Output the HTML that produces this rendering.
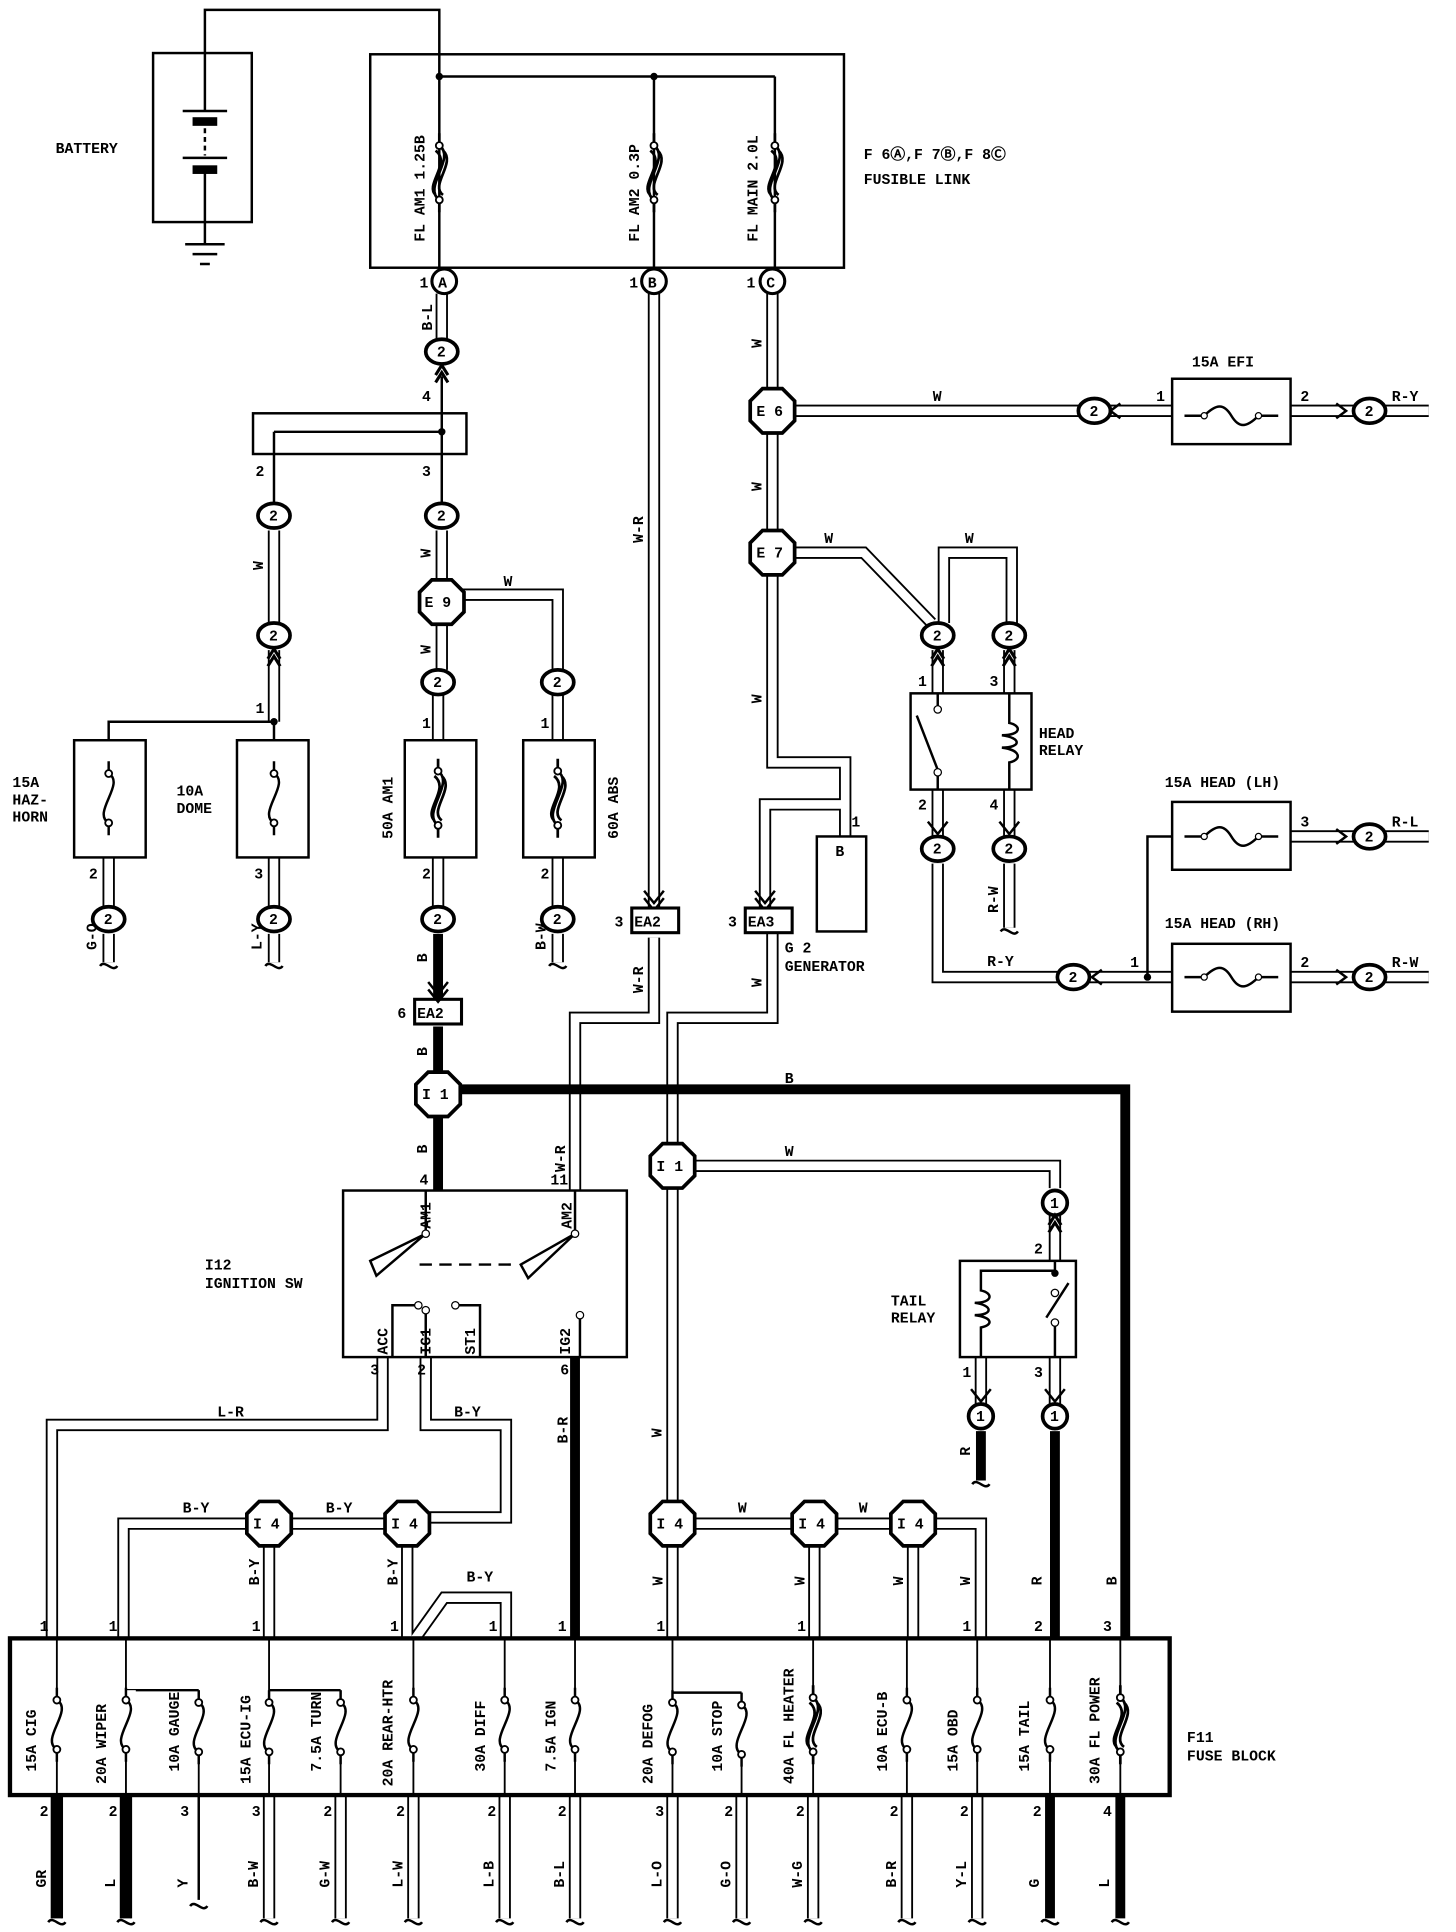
<!DOCTYPE html>
<html><head><meta charset="utf-8"><style>
html,body{margin:0;padding:0;background:#fff}
svg{display:block}
text{font-family:"Liberation Mono",monospace;font-weight:bold;font-size:12px;fill:#000}
.b{fill:none;stroke:#000;stroke-width:2}
.t{fill:none;stroke:#000;stroke-width:1.5}
</style></head><body>
<svg width="1456" height="1932" viewBox="0 0 1180 1566" xmlns="http://www.w3.org/2000/svg">
<defs>
<polygon id="oct" points="-8,-18 8,-18 18,-8 18,8 8,18 -8,18 -18,8 -18,-8" fill="#fff" stroke="#000" stroke-width="3"/>
<ellipse id="cn" rx="13" ry="10" fill="#fff" stroke="#000" stroke-width="3"/>
<g id="fz"><path d="M0,-30 V-20 C14,-12 -14,12 0,20 V30" fill="none" stroke="#000" stroke-width="2"/><circle cy="-20" r="2.8" fill="#fff" stroke="#000" stroke-width="1.5"/><circle cy="20" r="2.8" fill="#fff" stroke="#000" stroke-width="1.5"/></g>
<g id="fzt"><path d="M0,-32 V-22 C14,-12 -14,12 0,22 V32 M3,-18 C14,-8 -8,10 3,18 M-3,-18 C10,-8 -12,10 -3,18" fill="none" stroke="#000" stroke-width="2.2"/><circle cy="-22" r="2.8" fill="#fff" stroke="#000" stroke-width="1.5"/><circle cy="22" r="2.8" fill="#fff" stroke="#000" stroke-width="1.5"/></g>
<g id="fh"><path d="M-38,0 H-22 C-12,-10 -6,-10 0,0 C6,10 12,10 22,0 H38" fill="none" stroke="#000" stroke-width="2"/><circle cx="-22" r="2.5" fill="#fff" stroke="#000"/><circle cx="22" r="2.5" fill="#fff" stroke="#000"/></g>
<path id="up" d="M-5,8 L0,0 L5,8 M-5,14 L0,6 L5,14" fill="none" stroke="#000" stroke-width="2.5"/>
<path id="wv" d="M-7,0 C-3,-6 3,6 7,0" fill="none" stroke="#000" stroke-width="2"/>
<g id="dw">
<path d="M358,238 V275"/>
<path d="M222,430 V505 M358,430 V470 M358,506 V543 M374,482 H452 V543"/>
<path d="M355,563 V600 M452,563 V600 M355,695 V735 M452,695 V735 M222,695 V735 M88,695 V735 M222,527 V585"/>
<path d="M88,757 V780 M222,757 V780 M452,757 V780 M818,700 V752"/>
<path d="M530,238 V735 M530,760 V825 H466 V965"/>
<path d="M626,238 V315 M644,333 H875 M626,351 V430 M644,448 H700 L755,505 M765,505 V448 H820 V505"/>
<path d="M626,466 V618 H685 V678 M620,735 V652 H685"/>
<path d="M626,757 V825 H545 V927 M563,945 H855 V963 M545,963 V1217"/>
<path d="M760,527 V562 M818,527 V562 M760,640 V678 M818,640 V678 M760,700 V792 H857"/>
<path d="M1046,333 H1097 M1123,333 H1158 M1046,678 H1097 M1123,678 H1158 M1046,792 H1097 M1123,792 H1158 M950,333 H900 M882,792 H950"/>
<path d="M855,1100 V1138 M855,985 V1022 M795,1100 V1138"/>
<path d="M310,1100 V1155 H42 V1330 M345,1100 V1155 H410 V1230 H348 M312,1235 H236 M200,1235 H100 V1330 M218,1253 V1330 M330,1253 V1330 M335,1330 L360,1295 H410 V1330"/>
<path d="M563,1235 H642 M678,1235 H722 M758,1235 H795 V1330 M545,1253 V1330 M660,1253 V1330 M740,1253 V1330"/>
<path d="M46,1455 V1555 M102,1455 V1555 M218,1455 V1555 M276,1455 V1555 M335,1455 V1555 M409,1455 V1555 M466,1455 V1555 M545,1455 V1555 M601,1455 V1555 M659,1455 V1555 M735,1455 V1555 M792,1455 V1555"/>
</g>
</defs>

<use href="#dw" fill="none" stroke="#000" stroke-width="10"/>
<use href="#dw" fill="none" stroke="#fff" stroke-width="7"/>

<g fill="none" stroke="#000" stroke-width="8">
<path d="M355,757 V810 M355,832 V869 M373,883 H912 V1330 M355,905 V965 M466,1100 V1330 M855,1160 V1330 M795,1160 V1200"/>
<path d="M46,1455 V1555 M102,1455 V1555 M851,1455 V1555 M908,1455 V1555"/>
</g>
<path d="M161,1455 V1540" class="b"/>

<path d="M166,43 V8 H356 V62" class="b"/>
<rect x="124" y="43" width="80" height="137" class="b" stroke-width="3"/>
<path d="M166,43 V90 M148,90 H184 M148,128 H184 M166,140 V180 M166,180 V198 M150,198 H182 M156,206 H176 M162,214 H170" class="b"/>
<rect x="156" y="95" width="20" height="7" fill="#000"/><rect x="156" y="134" width="20" height="7" fill="#000"/>
<path d="M166,104 V126" stroke="#000" stroke-width="2" stroke-dasharray="4,3"/>
<text x="45" y="124">BATTERY</text>

<rect x="300" y="44" width="384" height="173" class="b" stroke-width="3"/>
<path d="M356,62 H628 M356,62 V217 M530,62 V217 M628,62 V217" class="b"/>
<circle cx="356" cy="62" r="3"/><circle cx="530" cy="62" r="3"/>
<use href="#fzt" x="356" y="140"/><use href="#fzt" x="530" y="140"/><use href="#fzt" x="628" y="140"/>
<text transform="translate(344,196) rotate(-90)">FL AM1 1.25B</text>
<text transform="translate(518,196) rotate(-90)">FL AM2 0.3P</text>
<text transform="translate(614,196) rotate(-90)">FL MAIN 2.0L</text>
<g><circle cx="360" cy="228" r="10" fill="#fff" stroke="#000" stroke-width="2.5"/><text x="355" y="233">A</text><text x="340" y="233">1</text>
<circle cx="530" cy="228" r="10" fill="#fff" stroke="#000" stroke-width="2.5"/><text x="525" y="233">B</text><text x="510" y="233">1</text>
<circle cx="626" cy="228" r="10" fill="#fff" stroke="#000" stroke-width="2.5"/><text x="621" y="233">C</text><text x="605" y="233">1</text></g>
<text x="700" y="129">F 6Ⓐ,F 7Ⓑ,F 8Ⓒ</text>
<text x="700" y="149">FUSIBLE LINK</text>

<text transform="translate(350,268) rotate(-90)">B-L</text>
<use href="#cn" x="358" y="285"/><text x="354" y="289">2</text><use href="#up" x="358" y="296"/>
<path d="M358,305 V335" class="b"/><text x="342" y="325">4</text>
<rect x="205" y="335" width="173" height="33" class="b" stroke-width="3"/>
<path d="M358,335 V408 M222,350 H358 M222,350 V408" class="b"/><circle cx="358" cy="350" r="3"/>
<text x="207" y="386">2</text><text x="342" y="386">3</text>
<use href="#cn" x="222" y="418"/><text x="218" y="422">2</text>
<use href="#cn" x="358" y="418"/><text x="354" y="422">2</text>
<text transform="translate(213,462) rotate(-90)">W</text><text transform="translate(349,452) rotate(-90)">W</text>
<use href="#cn" x="222" y="515"/><text x="218" y="519">2</text><use href="#up" x="222" y="526"/>
<use href="#oct" x="358" y="488"/><text x="344" y="492">E 9</text><text x="408" y="475">W</text>
<text transform="translate(349,530) rotate(-90)">W</text>
<use href="#cn" x="355" y="553"/><text x="351" y="557">2</text>
<use href="#cn" x="452" y="553"/><text x="448" y="557">2</text>
<path d="M222,585 H88 V600 M222,585 V600" class="b"/><circle cx="222" cy="585" r="3"/><text x="207" y="578">1</text>
<rect x="60" y="600" width="58" height="95" class="b" stroke-width="3"/>
<rect x="192" y="600" width="58" height="95" class="b" stroke-width="3"/>
<rect x="328" y="600" width="58" height="95" class="b" stroke-width="3"/>
<rect x="424" y="600" width="58" height="95" class="b" stroke-width="3"/>
<use href="#fz" x="88" y="647"/><use href="#fz" x="222" y="647"/><use href="#fzt" x="355" y="647"/><use href="#fzt" x="452" y="647"/>
<text x="10" y="638">15A</text><text x="10" y="652">HAZ-</text><text x="10" y="666">HORN</text>
<text x="143" y="645">10A</text><text x="143" y="659">DOME</text>
<text transform="translate(318,680) rotate(-90)">50A AM1</text>
<text transform="translate(501,680) rotate(-90)">60A ABS</text>
<text x="342" y="590">1</text><text x="438" y="590">1</text><text x="342" y="712">2</text><text x="438" y="712">2</text><text x="72" y="712">2</text><text x="206" y="712">3</text>
<use href="#cn" x="88" y="745"/><text x="84" y="749">2</text>
<use href="#cn" x="222" y="745"/><text x="218" y="749">2</text>
<use href="#cn" x="355" y="745"/><text x="351" y="749">2</text>
<use href="#cn" x="452" y="745"/><text x="448" y="749">2</text>
<text transform="translate(78,770) rotate(-90)">G-O</text><text transform="translate(212,770) rotate(-90)">L-Y</text><text transform="translate(442,770) rotate(-90)">B-W</text>
<use href="#wv" x="88" y="783"/><use href="#wv" x="222" y="783"/><use href="#wv" x="452" y="783"/>
<text transform="translate(346,780) rotate(-90)">B</text>
<rect x="336" y="810" width="38" height="20" fill="#fff" stroke="#000" stroke-width="2.5"/><text x="338" y="825">EA2</text><text x="322" y="825">6</text>
<path d="M347,796 L355,806 L363,796 M347,802 L355,812 L363,802" class="b"/>
<text transform="translate(346,856) rotate(-90)">B</text>
<use href="#oct" x="355" y="887"/><text x="342" y="891">I 1</text>
<text transform="translate(346,935) rotate(-90)">B</text><text x="340" y="960">4</text>
<text x="636" y="878">B</text>

<text transform="translate(521,440) rotate(-90)">W-R</text>
<path d="M522,722 L530,732 L538,722 M522,728 L530,738 L538,728" class="b"/>
<rect x="512" y="736" width="38" height="20" fill="#fff" stroke="#000" stroke-width="2.5"/><text x="514" y="751">EA2</text><text x="498" y="751">3</text>
<text transform="translate(521,805) rotate(-90)">W-R</text>
<text transform="translate(458,950) rotate(-90)">W-R</text><text x="446" y="960">11</text>

<text transform="translate(617,282) rotate(-90)">W</text>
<use href="#oct" x="626" y="333"/><text x="613" y="337">E 6</text>
<text x="756" y="325">W</text>
<use href="#cn" x="887" y="333"/><text x="883" y="337">2</text><path d="M908,327 L900,333 L908,339" class="b"/>
<text x="937" y="325">1</text><text x="1054" y="325">2</text>
<rect x="950" y="307" width="96" height="53" class="b" stroke-width="3"/><use href="#fh" x="998" y="337"/>
<text x="966" y="297">15A EFI</text>
<use href="#cn" x="1110" y="333"/><text x="1106" y="337">2</text><path d="M1083,327 L1091,333 L1083,339" class="b"/>
<text x="1128" y="325">R-Y</text>
<text transform="translate(617,398) rotate(-90)">W</text>
<use href="#oct" x="626" y="448"/><text x="613" y="452">E 7</text>
<text x="668" y="440">W</text><text x="782" y="440">W</text>
<use href="#cn" x="760" y="515"/><text x="756" y="519">2</text><use href="#up" x="760" y="526"/>
<use href="#cn" x="818" y="515"/><text x="814" y="519">2</text><use href="#up" x="818" y="526"/>
<text x="744" y="556">1</text><text x="802" y="556">3</text>
<rect x="738" y="562" width="98" height="78" class="b" stroke-width="3"/>
<path d="M760,562 V572 M743,580 L760,624 M760,624 V640 M818,562 V586 C828,588 828,596 812,596 C828,598 828,606 812,606 C828,608 828,616 818,618 V640" class="b"/>
<circle cx="760" cy="575" r="3" fill="#fff" stroke="#000"/><circle cx="760" cy="626" r="3" fill="#fff" stroke="#000"/>
<text x="842" y="598">HEAD</text><text x="842" y="612">RELAY</text>
<text x="744" y="656">2</text><text x="802" y="656">4</text>
<path d="M752,666 L760,676 L768,666 M810,666 L818,676 L826,666" class="b"/>
<use href="#cn" x="760" y="688"/><text x="756" y="692">2</text>
<use href="#cn" x="818" y="688"/><text x="814" y="692">2</text>
<text transform="translate(809,740) rotate(-90)">R-W</text><use href="#wv" x="818" y="755"/>
<text x="800" y="783">R-Y</text>
<use href="#cn" x="870" y="792"/><text x="866" y="796">2</text><path d="M893,786 L885,792 L893,798" class="b"/>
<path d="M930,792 V678 H950" class="b"/><circle cx="930" cy="792" r="3"/><text x="916" y="784">1</text>
<rect x="950" y="650" width="96" height="55" class="b" stroke-width="3"/><use href="#fh" x="998" y="678"/>
<rect x="950" y="765" width="96" height="55" class="b" stroke-width="3"/><use href="#fh" x="998" y="792"/>
<text x="944" y="638">15A HEAD (LH)</text><text x="944" y="752">15A HEAD (RH)</text>
<text x="1054" y="670">3</text><text x="1054" y="784">2</text>
<use href="#cn" x="1110" y="678"/><text x="1106" y="682">2</text><path d="M1083,672 L1091,678 L1083,684" class="b"/>
<use href="#cn" x="1110" y="792"/><text x="1106" y="796">2</text><path d="M1083,786 L1091,792 L1083,798" class="b"/>
<text x="1128" y="670">R-L</text><text x="1128" y="784">R-W</text>
<text transform="translate(617,570) rotate(-90)">W</text>
<rect x="662" y="678" width="40" height="77" class="b" stroke-width="3"/><text x="677" y="694">B</text><text x="690" y="670">1</text>
<path d="M612,722 L620,732 L628,722 M612,728 L620,738 L628,728" class="b"/>
<rect x="604" y="736" width="38" height="20" fill="#fff" stroke="#000" stroke-width="2.5"/><text x="606" y="751">EA3</text><text x="590" y="751">3</text>
<text x="636" y="772">G 2</text><text x="636" y="787">GENERATOR</text>
<text transform="translate(617,800) rotate(-90)">W</text>
<use href="#oct" x="545" y="945"/><text x="532" y="949">I 1</text>
<text x="636" y="937">W</text>
<circle cx="855" cy="975" r="10" fill="#fff" stroke="#000" stroke-width="3"/><text x="851" y="979">1</text><use href="#up" x="855" y="985"/>
<text x="838" y="1016">2</text>
<rect x="778" y="1022" width="94" height="78" class="b" stroke-width="3"/>
<path d="M855,1022 V1030 M855,1072 V1100 M795,1040 V1046 C805,1048 805,1056 790,1056 C805,1058 805,1066 790,1066 C805,1068 805,1074 795,1076 V1100 M795,1040 V1030 H855" class="b"/>
<path d="M848,1068 L866,1040" class="b"/>
<circle cx="855" cy="1032" r="3"/><circle cx="855" cy="1048" r="3" fill="#fff" stroke="#000"/><circle cx="855" cy="1072" r="3" fill="#fff" stroke="#000"/>
<text x="722" y="1058">TAIL</text><text x="722" y="1072">RELAY</text>
<text x="780" y="1116">1</text><text x="838" y="1116">3</text>
<path d="M787,1126 L795,1136 L803,1126 M847,1126 L855,1136 L863,1126" class="b"/>
<circle cx="795" cy="1148" r="10" fill="#fff" stroke="#000" stroke-width="3"/><text x="791" y="1152">1</text>
<circle cx="855" cy="1148" r="10" fill="#fff" stroke="#000" stroke-width="3"/><text x="851" y="1152">1</text>
<text transform="translate(786,1180) rotate(-90)">R</text><use href="#wv" x="795" y="1203"/>
<text transform="translate(536,1165) rotate(-90)">W</text>

<rect x="278" y="965" width="230" height="135" class="b" stroke-width="3"/>
<path d="M345,965 V1000 M466,965 V1000" class="b"/>
<path d="M345,1000 L300,1022 L305,1034 Z M466,1000 L422,1025 L428,1036 Z" class="b" stroke-width="2.5"/>
<path d="M340,1025 H420" stroke="#000" stroke-width="2" stroke-dasharray="10,6"/>
<circle cx="345" cy="1000" r="3" fill="#fff" stroke="#000"/><circle cx="466" cy="1000" r="3" fill="#fff" stroke="#000"/>
<text transform="translate(349,996) rotate(-90)">AM1</text><text transform="translate(463,996) rotate(-90)">AM2</text>
<path d="M318,1100 V1058 H337 M345,1100 V1062 M389,1100 V1058 H370 M470,1100 V1066" class="b"/>
<circle cx="339" cy="1058" r="3" fill="#fff" stroke="#000"/><circle cx="345" cy="1062" r="3" fill="#fff" stroke="#000"/><circle cx="369" cy="1058" r="3" fill="#fff" stroke="#000"/><circle cx="470" cy="1066" r="3" fill="#fff" stroke="#000"/>
<text transform="translate(314,1098) rotate(-90)">ACC</text><text transform="translate(349,1098) rotate(-90)">IG1</text><text transform="translate(385,1098) rotate(-90)">ST1</text><text transform="translate(462,1098) rotate(-90)">IG2</text>
<text x="300" y="1114">3</text><text x="338" y="1114">2</text><text x="454" y="1114">6</text>
<text x="166" y="1029">I12</text><text x="166" y="1044">IGNITION SW</text>
<text x="176" y="1148">L-R</text><text x="368" y="1148">B-Y</text>
<text transform="translate(460,1170) rotate(-90)">B-R</text>

<use href="#oct" x="218" y="1235"/><text x="205" y="1239">I 4</text>
<use href="#oct" x="330" y="1235"/><text x="317" y="1239">I 4</text>
<use href="#oct" x="545" y="1235"/><text x="532" y="1239">I 4</text>
<use href="#oct" x="660" y="1235"/><text x="647" y="1239">I 4</text>
<use href="#oct" x="740" y="1235"/><text x="727" y="1239">I 4</text>
<text x="148" y="1226">B-Y</text><text x="264" y="1226">B-Y</text><text x="378" y="1282">B-Y</text>
<text x="598" y="1226">W</text><text x="696" y="1226">W</text>
<text transform="translate(210,1285) rotate(-90)">B-Y</text><text transform="translate(322,1285) rotate(-90)">B-Y</text>
<text transform="translate(537,1285) rotate(-90)">W</text><text transform="translate(652,1285) rotate(-90)">W</text><text transform="translate(732,1285) rotate(-90)">W</text><text transform="translate(786,1285) rotate(-90)">W</text>
<text transform="translate(844,1285) rotate(-90)">R</text><text transform="translate(905,1285) rotate(-90)">B</text>
<text x="32" y="1322">1</text><text x="88" y="1322">1</text><text x="204" y="1322">1</text><text x="316" y="1322">1</text><text x="396" y="1322">1</text><text x="452" y="1322">1</text><text x="532" y="1322">1</text><text x="646" y="1322">1</text><text x="780" y="1322">1</text><text x="838" y="1322">2</text><text x="894" y="1322">3</text>

<rect x="8" y="1328" width="940" height="127" fill="#fff" stroke="#000" stroke-width="3.5"/>
<g class="t">
<path d="M46,1328 V1455 M102,1328 V1455 M161,1370 V1455 M218,1328 V1455 M276,1370 V1455 M335,1328 V1455 M409,1328 V1455 M466,1328 V1455 M545,1328 V1455 M601,1372 V1455 M659,1328 V1455 M735,1328 V1455 M792,1328 V1455 M851,1328 V1455 M908,1328 V1455"/>
</g>
<path d="M102,1370 H161 M218,1370 H276 M545,1372 H601" class="b" stroke-width="2.5"/>
<g fill="#fff">
<rect x="38" y="1370" width="16" height="56"/><rect x="94" y="1370" width="16" height="56"/><rect x="153" y="1373" width="16" height="53"/><rect x="210" y="1373" width="16" height="53"/><rect x="268" y="1373" width="16" height="53"/><rect x="327" y="1370" width="16" height="56"/><rect x="401" y="1370" width="16" height="56"/><rect x="458" y="1370" width="16" height="56"/><rect x="537" y="1375" width="16" height="51"/><rect x="593" y="1375" width="16" height="54"/><rect x="651" y="1368" width="16" height="60"/><rect x="727" y="1370" width="16" height="56"/><rect x="784" y="1370" width="16" height="56"/><rect x="843" y="1370" width="16" height="56"/><rect x="900" y="1368" width="16" height="60"/>
</g>
<use href="#fz" x="46" y="1398"/><use href="#fz" x="102" y="1398"/><use href="#fz" x="161" y="1400"/><use href="#fz" x="218" y="1400"/><use href="#fz" x="276" y="1400"/><use href="#fz" x="335" y="1398"/><use href="#fz" x="409" y="1398"/><use href="#fz" x="466" y="1398"/><use href="#fz" x="545" y="1400"/><use href="#fz" x="601" y="1402"/><use href="#fzt" x="659" y="1398"/><use href="#fz" x="735" y="1398"/><use href="#fz" x="792" y="1398"/><use href="#fz" x="851" y="1398"/><use href="#fzt" x="908" y="1398"/>
<g>
<text transform="translate(29,1436) rotate(-90)">15A CIG</text>
<text transform="translate(86,1446) rotate(-90)">20A WIPER</text>
<text transform="translate(145,1436) rotate(-90)">10A GAUGE</text>
<text transform="translate(203,1446) rotate(-90)">15A ECU-IG</text>
<text transform="translate(260,1436) rotate(-90)">7.5A TURN</text>
<text transform="translate(318,1448) rotate(-90)">20A REAR-HTR</text>
<text transform="translate(393,1436) rotate(-90)">30A DIFF</text>
<text transform="translate(450,1436) rotate(-90)">7.5A IGN</text>
<text transform="translate(529,1446) rotate(-90)">20A DEFOG</text>
<text transform="translate(585,1436) rotate(-90)">10A STOP</text>
<text transform="translate(643,1446) rotate(-90)">40A FL HEATER</text>
<text transform="translate(719,1436) rotate(-90)">10A ECU-B</text>
<text transform="translate(776,1436) rotate(-90)">15A OBD</text>
<text transform="translate(834,1436) rotate(-90)">15A TAIL</text>
<text transform="translate(891,1446) rotate(-90)">30A FL POWER</text>
</g>
<text x="962" y="1412">F11</text><text x="962" y="1427">FUSE BLOCK</text>
<g>
<text x="32" y="1472">2</text><text x="88" y="1472">2</text><text x="146" y="1472">3</text><text x="204" y="1472">3</text><text x="262" y="1472">2</text><text x="321" y="1472">2</text><text x="395" y="1472">2</text><text x="452" y="1472">2</text><text x="531" y="1472">3</text><text x="587" y="1472">2</text><text x="645" y="1472">2</text><text x="721" y="1472">2</text><text x="778" y="1472">2</text><text x="837" y="1472">2</text><text x="894" y="1472">4</text>
<text transform="translate(37,1530) rotate(-90)">GR</text><text transform="translate(93,1530) rotate(-90)">L</text><text transform="translate(152,1530) rotate(-90)">Y</text><text transform="translate(209,1530) rotate(-90)">B-W</text><text transform="translate(267,1530) rotate(-90)">G-W</text><text transform="translate(326,1530) rotate(-90)">L-W</text><text transform="translate(400,1530) rotate(-90)">L-B</text><text transform="translate(457,1530) rotate(-90)">B-L</text><text transform="translate(536,1530) rotate(-90)">L-O</text><text transform="translate(592,1530) rotate(-90)">G-O</text><text transform="translate(650,1530) rotate(-90)">W-G</text><text transform="translate(726,1530) rotate(-90)">B-R</text><text transform="translate(783,1530) rotate(-90)">Y-L</text><text transform="translate(842,1530) rotate(-90)">G</text><text transform="translate(899,1530) rotate(-90)">L</text>
</g>
<g>
<use href="#wv" x="46" y="1558"/><use href="#wv" x="102" y="1558"/><use href="#wv" x="161" y="1545"/><use href="#wv" x="218" y="1558"/><use href="#wv" x="276" y="1558"/><use href="#wv" x="335" y="1558"/><use href="#wv" x="409" y="1558"/><use href="#wv" x="466" y="1558"/><use href="#wv" x="545" y="1558"/><use href="#wv" x="601" y="1558"/><use href="#wv" x="659" y="1558"/><use href="#wv" x="735" y="1558"/><use href="#wv" x="792" y="1558"/><use href="#wv" x="851" y="1558"/><use href="#wv" x="908" y="1558"/>
</g>
</svg>
</body></html>
